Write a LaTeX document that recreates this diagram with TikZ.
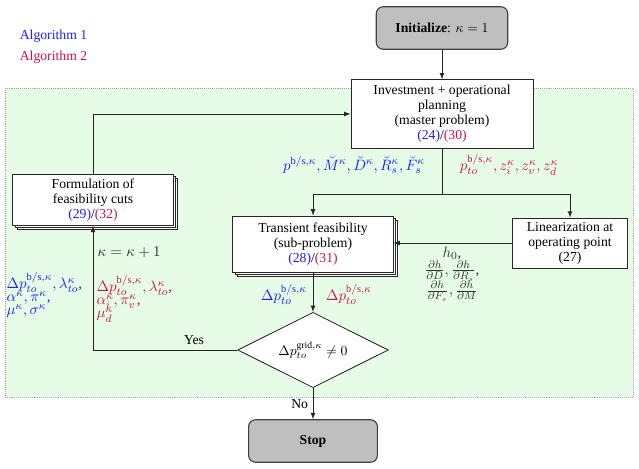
\documentclass[tikz,border=0pt]{standalone}
\usepackage{amsmath}
\usepackage{fontspec}
\setmainfont{Liberation Serif}
\usetikzlibrary{positioning, shapes.geometric, shadows, arrows.meta}

\definecolor{algone}{RGB}{30,30,255}
\definecolor{algtwo}{RGB}{200,20,80}
\definecolor{bggreen}{RGB}{230,252,230}

\tikzset{
	every node/.style={font=\fontsize{10}{11}\selectfont},
	block/.style={draw=black!85, semithick, fill=white, align=center, inner sep=2pt},
	multiblock/.style={block, double copy shadow={shadow xshift=1.5pt, shadow yshift=-1.5pt}},
	terminal/.style={draw=black!75, thick, fill=black!25, rounded corners=5pt, align=center},
	decision/.style={diamond, aspect=2, draw=black!85, semithick, fill=white, inner sep=0pt},
	flow/.style={->, >=latex, semithick, draw=black!85},
	varlabel/.style={inner sep=1pt, align=left, font=\fontsize{10.8}{11.5}\selectfont},
}

\begin{document}
\begin{tikzpicture}[x=0.73pt, y=-0.73pt]
	\useasboundingbox (0, 0) rectangle (639, 468);

	% background of the loop
	\filldraw[fill=bggreen, draw=black!35, densely dotted] (5, 88) rectangle (633, 397);

	\node[text=algone, anchor=west] (alg1) at (15, 36) {Algorithm 1};
	\node[text=algtwo, anchor=west] (alg2) at (15, 57) {Algorithm 2};

	\node[terminal, minimum width=96pt, minimum height=31pt] (init) at (442, 28) {\textbf{Initialize}: $\kappa = 1$};
	\node[block, minimum width=133pt, minimum height=50pt] (master) at (442, 114)
		{Investment + operational\\ planning\\ (master problem)\\ {\color{algone}(24)}/{\color{algtwo}(30)}};
	\node[multiblock, minimum width=117pt, minimum height=41pt] (sub) at (313, 244)
		{Transient feasibility\\ (sub-problem)\\ {\color{algone}(28)}/{\color{algtwo}(31)}};
	\node[block, minimum width=84pt, minimum height=36.5pt] (lin) at (570, 243)
		{Linearization at\\ operating point\\ (27)};
	\node[multiblock, minimum width=117pt, minimum height=37pt] (cuts) at (93, 200)
		{Formulation of\\ feasibility cuts\\ {\color{algone}(29)}/{\color{algtwo}(32)}};
	\node[decision, minimum width=110pt, minimum height=55pt] (check) at (313, 350)
		{$\Delta p_{to}^{\mathrm{grid},\kappa} \neq 0$};
	\node[terminal, minimum width=94pt, minimum height=31pt] (stop) at (313, 441) {\textbf{Stop}};

	\coordinate (split) at (442, 194);

	\draw[flow] (init) -- (master);
	\draw[semithick, draw=black!85] (master) -- (split);
	\draw[flow] (split) -| (sub);
	\draw[flow] (split) -| (lin);
	\draw[flow] (lin) -- (sub.east |- lin.west);
	\draw[flow] (sub) -- (check);
	\draw[flow] (check.west) -| node[pos=0.15, above] (yes) {Yes} (cuts.south);
	\draw[flow] (cuts.north) |- (master.west);
	\draw[flow] (check) -- node[left] (no) {No} (stop);

	% exchanged variables
	\node[varlabel, text=algone] (masterout1) at (354, 165)
		{$p^{\mathrm{b/s},\kappa}, \breve{M}^\kappa, \breve{D}^\kappa, \breve{R}^\kappa_s, \breve{F}^\kappa_s$};
	\node[varlabel, text=algtwo] (masterout2) at (509, 165)
		{$p_{to}^{\mathrm{b/s},\kappa}, z_i^\kappa, z_v^\kappa, z_d^\kappa$};
	\node[varlabel, text=black!80, align=center] (grad) at (452, 274)
		{$h_0$,\\ $\frac{\partial h}{\partial D}, \frac{\partial h}{\partial R_s}$,\\[-1pt] $\frac{\partial h}{\partial F_s}, \frac{\partial h}{\partial M}$};
	\node[varlabel, text=algone] (subout1) at (284, 294) {$\Delta p_{to}^{\mathrm{b/s},\kappa}$};
	\node[varlabel, text=algtwo] (subout2) at (349, 294) {$\Delta p_{to}^{\mathrm{b/s},\kappa}$};
	\node[varlabel, text=black!85, anchor=west] (iter) at (96, 252) {$\kappa = \kappa + 1$};
	\node[varlabel, text=algone, anchor=west] (cutin1) at (5, 295)
		{$\Delta p_{to}^{\mathrm{b/s},\kappa}, \lambda_{to}^\kappa$,\\[-2pt] $\alpha^\kappa, \pi^\kappa$,\\[-2pt] $\mu^\kappa, \sigma^\kappa$};
	\node[varlabel, text=algtwo, anchor=west] (cutin2) at (95, 299)
		{$\Delta p_{to}^{\mathrm{b/s},\kappa}, \lambda_{to}^\kappa$,\\[-2pt] $\alpha_i^\kappa, \pi_v^\kappa$,\\[-2pt] $\mu_d^\kappa$};
\end{tikzpicture}
\end{document}
